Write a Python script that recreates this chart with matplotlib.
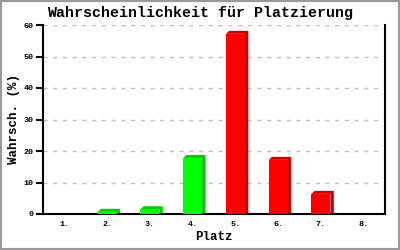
import numpy as np
import matplotlib.pyplot as plt
from matplotlib.patches import Polygon

# data
platz = ['1.', '2.', '3.', '4.', '5.', '6.', '7.', '8.']
wahrsch = [0, 0.7, 1.5, 17.8, 57.2, 17.2, 6.4, 0]
farben = ['#00FF00', '#00FF00', '#00FF00', '#00FF00', '#FF0000', '#FF0000', '#FF0000', '#FF0000']
schatten = ['#00CC00', '#00CC00', '#00CC00', '#00CC00', '#CC0000', '#CC0000', '#CC0000', '#CC0000']

mono = 'Liberation Mono'

fig = plt.figure(figsize=(4, 2.5), dpi=100)
ax = fig.add_axes([0.1075, 0.144, 0.855, 0.756])

x = np.arange(len(platz))
breite = 0.445
dx = 0.08   # depth offset in categories (~3.5 px)
dy = 0.95   # depth offset in data units (~3 px)

for xi, v, c, s in zip(x, wahrsch, farben, schatten):
    if v <= 0:
        continue
    l, r = xi - breite / 2, xi + breite / 2
    # top + side depth
    ax.add_patch(Polygon([(l, v), (l + dx, v + dy), (r + dx, v + dy), (r + dx, dy * 0.3),
                          (r, 0), (r, v)], closed=True, facecolor=s, edgecolor='none', zorder=2))
    ax.bar(xi, v, width=breite, color=c, zorder=3)

ax.set_xlim(-0.5, len(platz) - 0.5)
ax.set_ylim(0, 60)
ax.set_yticks([0, 10, 20, 30, 40, 50, 60])
ax.set_xticks(x)
ax.set_xticklabels(platz)
ax.yaxis.grid(True, linestyle=(0, (3, 4)), color='#c0c0c0', linewidth=1)
ax.set_axisbelow(True)

ax.spines['top'].set_visible(False)
for sp in ['left', 'bottom', 'right']:
    ax.spines[sp].set_linewidth(1.5)
ax.tick_params(axis='y', direction='out', length=5, width=1.5, labelsize=6, pad=2)
ax.tick_params(axis='x', length=0, labelsize=6, pad=5)
for lab in ax.get_xticklabels() + ax.get_yticklabels():
    lab.set_family(mono)
    lab.set_fontweight('bold')

ax.set_title('Wahrscheinlichkeit für Platzierung', family=mono, fontweight='bold',
             fontsize=10.8, pad=6, x=0.46)
ax.set_xlabel('Platz', family=mono, fontweight='bold', fontsize=9, labelpad=2)
ax.set_ylabel('Wahrsch. (%)', family=mono, fontweight='bold', fontsize=9, labelpad=2)

# gray frame around the image
fig.patches.append(plt.Rectangle((0, 0), 1, 1, transform=fig.transFigure, fill=False,
                                 edgecolor='#999999', linewidth=3))

fig.savefig('out.png', dpi=100)
